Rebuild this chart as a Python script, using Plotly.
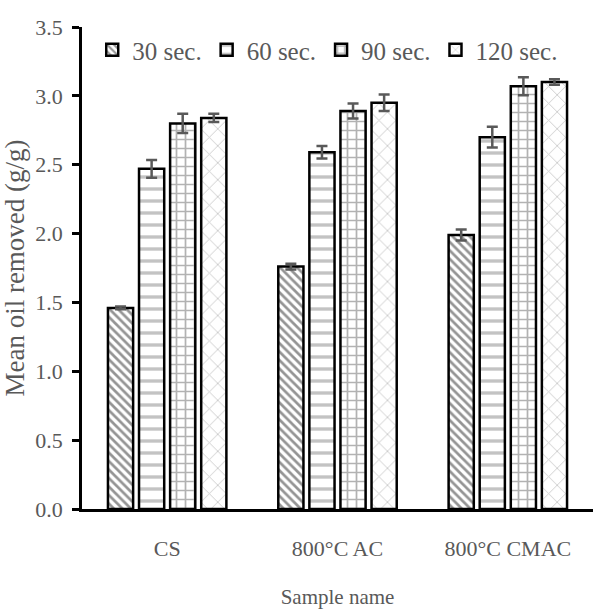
import plotly.graph_objects as go

categories = ["CS", "800°C AC", "800°C CMAC"]
series_names = ["30 sec.", "60 sec.", "90 sec.", "120 sec."]
vals_30 = [1.46, 1.76, 1.99]
vals_60 = [2.47, 2.59, 2.70]
vals_90 = [2.80, 2.89, 3.07]
vals_120 = [2.84, 2.95, 3.10]
err_30 = [0.01, 0.02, 0.04]
err_60 = [0.065, 0.045, 0.075]
err_90 = [0.07, 0.055, 0.065]
err_120 = [0.03, 0.06, 0.02]
y_ticks = [0.0, 0.5, 1.0, 1.5, 2.0, 2.5, 3.0, 3.5]

values = [vals_30, vals_60, vals_90, vals_120]
errors = [err_30, err_60, err_90, err_120]
patterns = [
    dict(shape="\\", fgcolor="#2a2a2a", bgcolor="white", size=6, solidity=0.45),
    dict(shape="-", fgcolor="#888888", bgcolor="white", size=12, solidity=0.28),
    dict(shape="+", fgcolor="#666666", bgcolor="white", size=9, solidity=0.35),
    dict(shape="x", fgcolor="#999999", bgcolor="white", size=12, solidity=0.15),
]

FONT = "Liberation Serif, Times New Roman, serif"
GRAY = "#595959"

fig = go.Figure()
for name, v, e, p in zip(series_names, values, errors, patterns):
    fig.add_trace(go.Bar(
        name=name, x=categories, y=v,
        marker=dict(color="white", pattern=p, line=dict(color="black", width=2.5)),
        error_y=dict(type="data", array=e, visible=True, color=GRAY, thickness=2.5, width=5.5),
    ))

fig.update_layout(
    width=593, height=609,
    margin=dict(l=82, r=0, t=27, b=100),
    paper_bgcolor="white", plot_bgcolor="white",
    barmode="group", bargap=0.27, bargroupgap=0.19,
    font=dict(family=FONT, color=GRAY),
    legend=dict(orientation="h", x=0.02, y=1.0, xanchor="left", yanchor="top",
                font=dict(size=25, color=GRAY, family=FONT),
                bgcolor="rgba(0,0,0,0)", itemwidth=30, tracegroupgap=0),
    showlegend=True,
)
fig.update_xaxes(
    showline=True, linecolor="black", linewidth=2.5, ticks="",
    ticklabelstandoff=18,
    tickfont=dict(size=22, color=GRAY, family=FONT),
    title=dict(text="Sample name", font=dict(size=21, color=GRAY, family=FONT), standoff=30),
    range=[-0.5, 2.5],
)
fig.update_yaxes(
    range=[0, 3.5], tickvals=y_ticks, ticktext=[f"{t:.1f}" for t in y_ticks],
    showline=True, linecolor="black", linewidth=2.5,
    ticks="outside", ticklen=7, tickwidth=2.5, tickcolor="black",
    ticklabelstandoff=5,
    showgrid=False, zeroline=False,
    tickfont=dict(size=22, color=GRAY, family=FONT),
    title=dict(text="Mean oil removed (g/g)", font=dict(size=27, color=GRAY, family=FONT), standoff=8),
)

fig.write_html("out.html")
